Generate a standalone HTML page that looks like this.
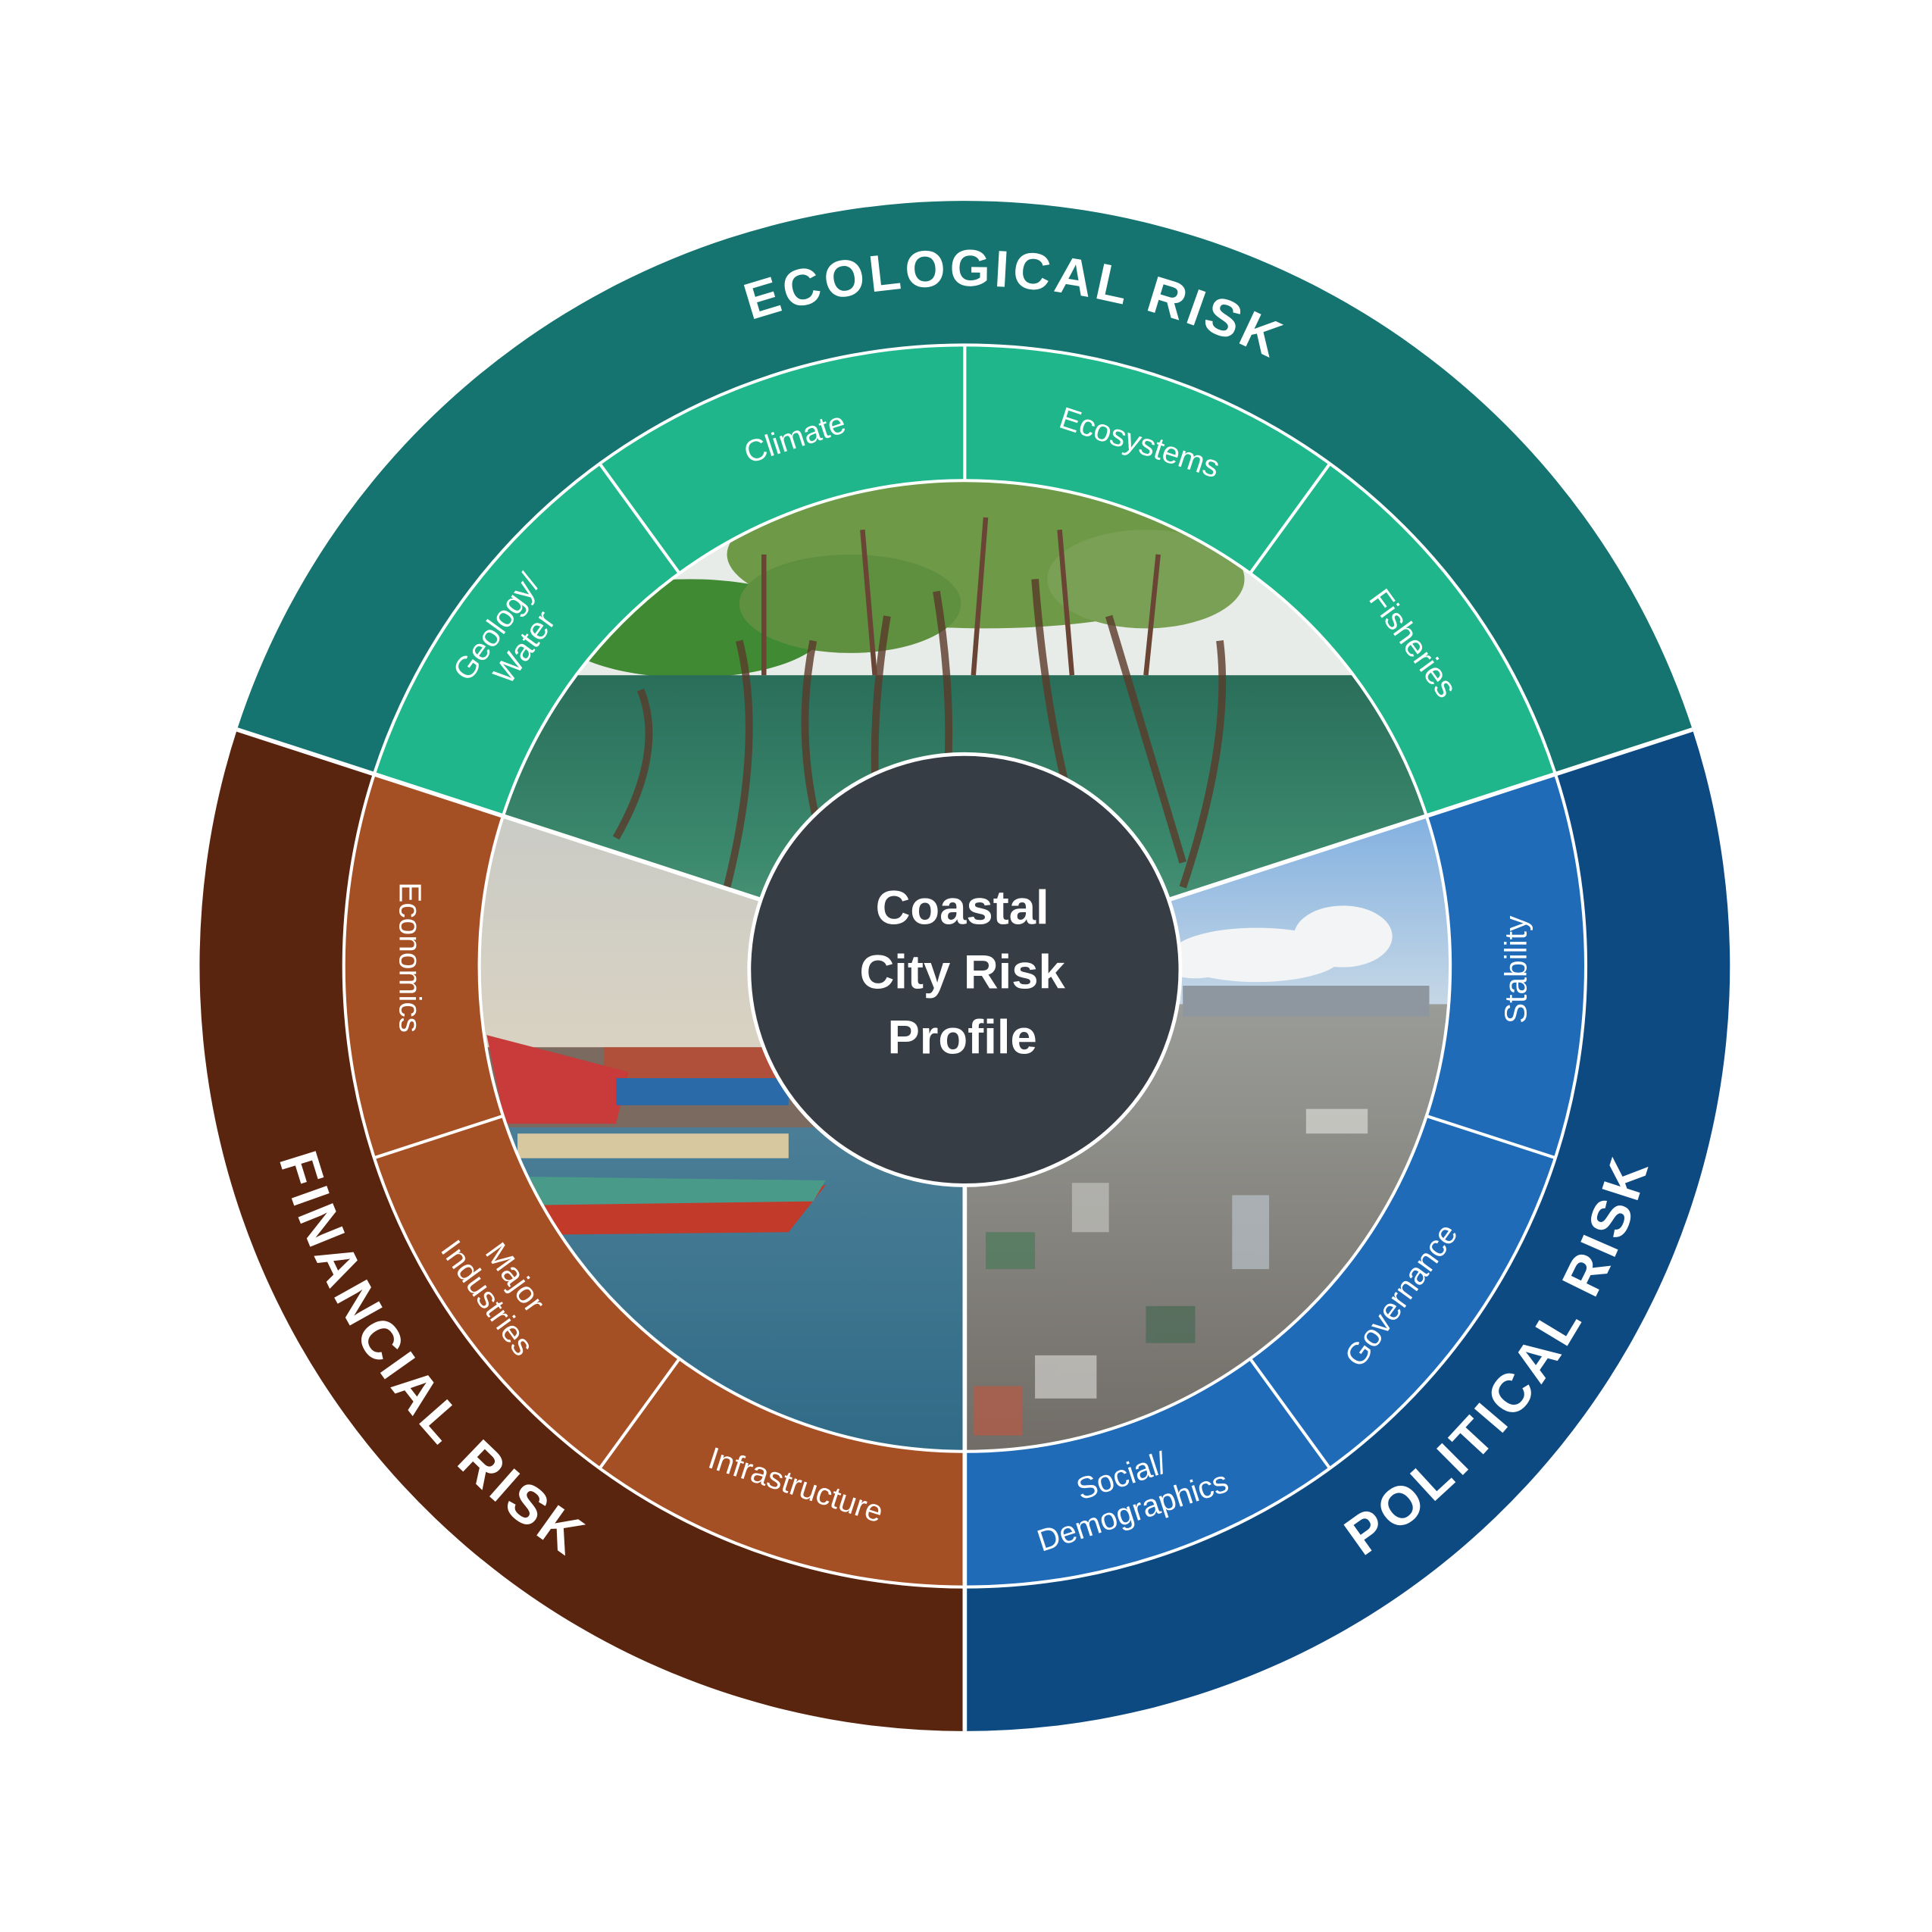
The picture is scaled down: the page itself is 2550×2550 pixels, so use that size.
<!DOCTYPE html>
<html><head><meta charset="utf-8"><style>
html,body{margin:0;padding:0;background:#fff}
svg{display:block}
text{font-family:"Liberation Sans",sans-serif;fill:#fff}
</style></head><body>
<svg width="2550" height="2550" viewBox="0 0 1568 1568" xmlns="http://www.w3.org/2000/svg">
<defs>
<clipPath id="ce"><path d="M783,784 L408.3,662.3 A394,394 0 0 1 1157.7,662.3 Z"/></clipPath>
<clipPath id="cf"><path d="M783,784 L783,1178 A394,394 0 0 1 408.3,662.3 Z"/></clipPath>
<clipPath id="cp"><path d="M783,784 L1157.7,662.3 A394,394 0 0 1 783,1178 Z"/></clipPath>
<linearGradient id="gwater" x1="0" y1="0" x2="0" y2="1"><stop offset="0" stop-color="#2a6e5a"/><stop offset="0.5" stop-color="#3c8a6e"/><stop offset="1" stop-color="#6fa288"/></linearGradient>
<linearGradient id="gfsky" x1="0" y1="0" x2="0" y2="1"><stop offset="0" stop-color="#c9cbc6"/><stop offset="1" stop-color="#d9d2c2"/></linearGradient>
<linearGradient id="gfsea" x1="0" y1="0" x2="0" y2="1"><stop offset="0" stop-color="#4b7e96"/><stop offset="1" stop-color="#2f6a86"/></linearGradient>
<linearGradient id="gpsky" x1="0" y1="0" x2="0" y2="1"><stop offset="0" stop-color="#7eaee0"/><stop offset="1" stop-color="#c7d8e6"/></linearGradient>
<linearGradient id="gcity" x1="0" y1="0" x2="0" y2="1"><stop offset="0" stop-color="#9a9c98"/><stop offset="1" stop-color="#6f6a64"/></linearGradient>
<path id="pe" d="M258,613.4 A552,552 0 0 1 1308,613.4"/>
<path id="pf" d="M233.3,605.4 A578,578 0 0 0 783,1362"/>
<path id="pp" d="M783,1362 A578,578 0 0 0 1332.7,605.4"/>
</defs>

<path d="M783,784 L192.4,592.1 A621,621 0 0 1 1373.6,592.1 Z" fill="#157370"/>
<path d="M783,784 L783,1405 A621,621 0 0 1 192.4,592.1 Z" fill="#5a250f"/>
<path d="M783,784 L1373.6,592.1 A621,621 0 0 1 783,1405 Z" fill="#0e4a82"/>
<path d="M783,784 L303.7,628.3 A504,504 0 0 1 1262.3,628.3 Z" fill="#1fb68c"/>
<path d="M783,784 L783,1288 A504,504 0 0 1 303.7,628.3 Z" fill="#a54f25"/>
<path d="M783,784 L1262.3,628.3 A504,504 0 0 1 783,1288 Z" fill="#1f6bb7"/>

<g clip-path="url(#ce)">
<rect x="380" y="380" width="800" height="170" fill="#e8ece8"/>
<ellipse cx="560" cy="510" rx="110" ry="40" fill="#3f8a32"/>
<ellipse cx="800" cy="450" rx="210" ry="60" fill="#6e9a48"/>
<ellipse cx="690" cy="490" rx="90" ry="40" fill="#5f9040"/>
<ellipse cx="930" cy="470" rx="80" ry="40" fill="#7aa055"/>
<rect x="380" y="548" width="800" height="300" fill="url(#gwater)"/>
<g stroke="#5a3a2a" stroke-width="6" fill="none" opacity="0.8">
<path d="M520,560 Q540,610 500,680"/><path d="M600,520 Q620,600 590,720"/><path d="M660,520 Q640,620 680,720"/>
<path d="M760,480 Q780,600 760,700"/><path d="M840,470 Q850,600 880,690"/><path d="M900,500 Q930,600 960,700"/>
<path d="M990,520 Q1000,600 960,720"/><path d="M720,500 Q700,620 720,720"/>
</g>
<g stroke="#6a4535" stroke-width="4" fill="none">
<path d="M620,450 L620,548"/><path d="M700,430 L710,548"/><path d="M800,420 L790,548"/><path d="M860,430 L870,548"/><path d="M940,450 L930,548"/>
</g>
</g>
<g clip-path="url(#cf)">
<rect x="380" y="650" width="420" height="200" fill="url(#gfsky)"/>
<rect x="380" y="850" width="420" height="70" fill="#7a6a60"/>
<rect x="490" y="850" width="140" height="30" fill="#b0503a"/>
<path d="M395,840 L510,870 L500,912 L410,912 Z" fill="#c93a3a"/>
<rect x="500" y="875" width="140" height="22" fill="#2a6aa8"/>
<rect x="380" y="915" width="420" height="270" fill="url(#gfsea)"/>
<path d="M430,960 L670,962 L640,1000 L450,1002 Z" fill="#c23a2a"/>
<path d="M430,955 L670,958 L660,975 L440,978 Z" fill="#4a9a8a"/>
<rect x="420" y="920" width="220" height="20" fill="#d8c8a0"/>
</g>
<g clip-path="url(#cp)">
<rect x="780" y="650" width="420" height="170" fill="url(#gpsky)"/>
<ellipse cx="1020" cy="775" rx="70" ry="22" fill="#f2f4f6"/>
<ellipse cx="1090" cy="760" rx="40" ry="25" fill="#f2f4f6"/>
<ellipse cx="970" cy="780" rx="30" ry="14" fill="#f2f4f6"/>
<rect x="780" y="815" width="420" height="380" fill="url(#gcity)"/>
<rect x="960" y="800" width="200" height="25" fill="#8e96a0"/>
<g opacity="0.7">
<rect x="800" y="1000" width="40" height="30" fill="#4a7a5a"/><rect x="870" y="960" width="30" height="40" fill="#c0c0bc"/>
<rect x="1000" y="970" width="30" height="60" fill="#b8c0c8"/><rect x="840" y="1100" width="50" height="35" fill="#d0d0cc"/>
<rect x="930" y="1060" width="40" height="30" fill="#4a6a55"/><rect x="1060" y="900" width="50" height="20" fill="#d8d8d4"/>
<rect x="790" y="1125" width="40" height="40" fill="#b85a45"/>
</g>
</g>

<g stroke="#fff" fill="none">
<circle cx="783" cy="784" r="504" stroke-width="2.5"/>
<circle cx="783" cy="784" r="394" stroke-width="2.5"/>
<path stroke-width="3.5" d="M783,784 L192.4,592.1 M783,784 L1373.6,592.1 M783,784 L783,1405"/>
<path stroke-width="2.5" d="M486.7,376.3 L551.4,465.3 M783,280 L783,390 M1079.3,376.3 L1014.6,465.3 M1262.3,939.7 L1157.7,905.7 M1079.3,1191.7 L1014.6,1102.7 M486.7,1191.7 L551.4,1102.7 M303.7,939.7 L408.3,905.7"/>
</g>

<circle cx="783" cy="787" r="175" fill="#373d45" stroke="#fff" stroke-width="3"/>
<g font-weight="bold" font-size="39" text-anchor="middle">
<text x="781" y="750">Coastal</text>
<text x="781" y="802">City Risk</text>
<text x="781" y="855">Profile</text>
</g>

<g font-size="44" font-weight="bold" letter-spacing="4">
<text font-size="42" letter-spacing="3"><textPath href="#pe" startOffset="53%" text-anchor="middle">ECOLOGICAL RISK</textPath></text>
<text><textPath href="#pf" startOffset="50%" text-anchor="middle">FINANCIAL RISK</textPath></text>
<text><textPath href="#pp" startOffset="50%" text-anchor="middle">POLITICAL RISK</textPath></text>
</g>

<g font-size="25" text-anchor="middle" dominant-baseline="central">
<text transform="translate(645,355) rotate(-18)">Climate</text>
<text transform="translate(925,359) rotate(18)">Ecosystems</text>
<text transform="translate(414,517) rotate(-54)"><tspan x="0" y="-14">Geology/</tspan><tspan x="0" y="14">Water</tspan></text>
<text transform="translate(1147,522) rotate(54)">Fisheries</text>
<text transform="translate(333,777) rotate(90)">Economics</text>
<text transform="translate(407,1045) rotate(54)"><tspan x="0" y="-14">Major</tspan><tspan x="0" y="14">Industries</tspan></text>
<text transform="translate(646,1205) rotate(18)">Infrastructure</text>
<text transform="translate(915,1213) rotate(-18)"><tspan x="0" y="-16">Social/</tspan><tspan x="0" y="14">Demographics</tspan></text>
<text transform="translate(1137,1051) rotate(-54)">Governance</text>
<text transform="translate(1230,787) rotate(-90)">Stability</text>
</g>
</svg>
</body></html>
